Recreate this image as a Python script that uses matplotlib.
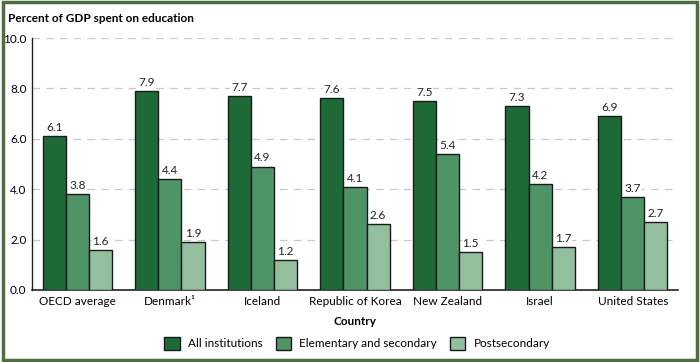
import matplotlib
matplotlib.use("Agg")
import matplotlib.pyplot as plt
from matplotlib.patches import Rectangle
import numpy as np

countries = ["OECD average", "Denmark\u00b9", "Iceland", "Republic of Korea",
             "New Zealand", "Israel", "United States"]
all_inst = [6.1, 7.9, 7.7, 7.6, 7.5, 7.3, 6.9]
elem_sec = [3.8, 4.4, 4.9, 4.1, 5.4, 4.2, 3.7]
postsec = [1.6, 1.9, 1.2, 2.6, 1.5, 1.7, 2.7]
series_names = ["All institutions", "Elementary and secondary", "Postsecondary"]
yticks = [0.0, 2.0, 4.0, 6.0, 8.0, 10.0]

colors = ["#1d6a36", "#4f9466", "#93bf9f"]
plt.rcParams['font.family'] = ['Lato', 'DejaVu Sans']

fig = plt.figure(figsize=(7, 3.62), dpi=100)
ax = fig.add_axes([0.0457, 0.199, 0.923, 0.696])

x = np.arange(len(countries))
w = 0.25
for i, (vals, c) in enumerate(zip([all_inst, elem_sec, postsec], colors)):
    pos = x + (i - 1) * w
    ax.bar(pos, vals, width=w, color=c, edgecolor="#1a1a1a", linewidth=1.0,
           label=series_names[i], zorder=3)
    for p, v in zip(pos, vals):
        ax.text(p, v + 0.12, f"{v:.1f}", ha="center", va="bottom", fontsize=8.5,
                color="#222222", zorder=4,
                bbox=dict(facecolor="white", edgecolor="none", pad=0.5))

ax.set_xlim(-0.49, len(countries) - 0.51)
ax.set_ylim(0, 10)
ax.set_yticks(yticks)
ax.set_yticklabels([f"{t:.1f}" for t in yticks], fontsize=8.5)
ax.set_xticks(x)
ax.set_xticklabels(countries, fontsize=8.5)
ax.tick_params(axis="both", length=0, pad=4)
ax.yaxis.grid(True, linestyle=(0, (6, 5)), color="#c8c8c8", linewidth=0.9, zorder=0)
for s in ["top", "right"]:
    ax.spines[s].set_visible(False)
ax.spines["left"].set_color("#222222")
ax.spines["bottom"].set_color("#222222")
ax.spines["left"].set_linewidth(1.0)
ax.spines["bottom"].set_linewidth(1.2)

ax.set_xlabel("Country", fontsize=8.5, fontweight="bold", labelpad=7)
fig.text(0.012, 0.948, "Percent of GDP spent on education", fontsize=8.5,
         fontweight="bold", ha="left", va="center")

leg = fig.legend(loc="center", bbox_to_anchor=(0.51, 0.052), ncol=3, frameon=False,
                 fontsize=8.5, handlelength=1.3, handleheight=1.3, columnspacing=1.1,
                 handletextpad=0.7)

# green frame
fig.patches.append(Rectangle((0.004, 0.006), 0.992, 0.988, transform=fig.transFigure,
                             fill=False, edgecolor="#4d6e3f", linewidth=2.5))

fig.savefig("out.png", dpi=100)
